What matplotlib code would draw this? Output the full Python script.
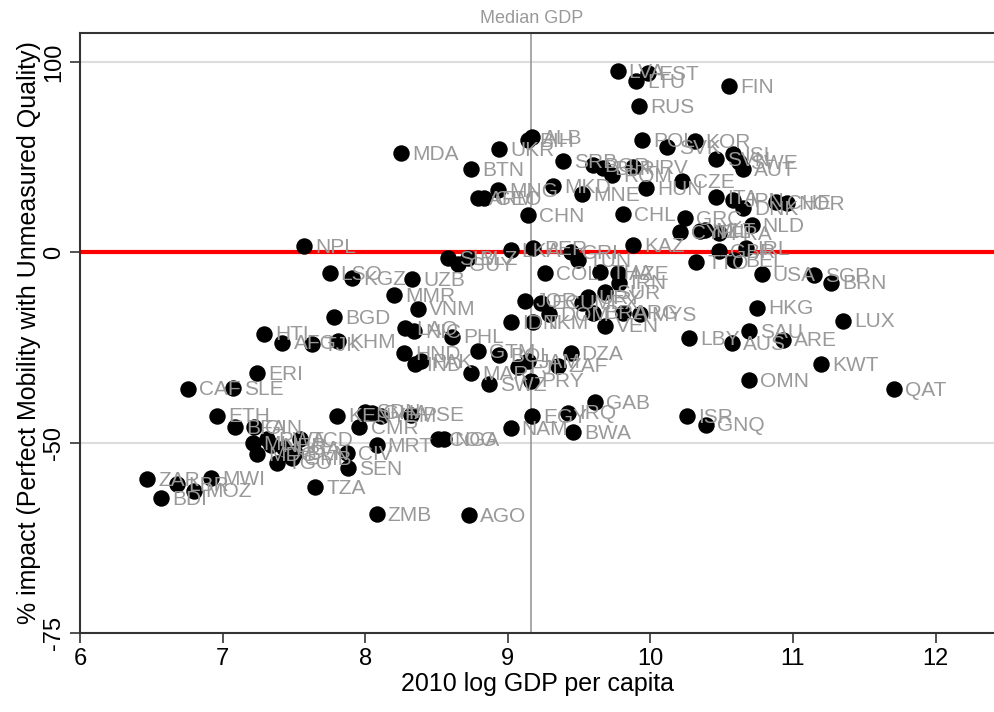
import numpy as np
import matplotlib
matplotlib.use("Agg")
import matplotlib.pyplot as plt

plt.rcParams['font.family'] = ['Liberation Sans', 'DejaVu Sans']

# country code, 2010 log GDP per capita, % impact
codes = ["LVA", "EST", "LTU", "FIN", "RUS", "ALB", "BIH", "MDA", "UKR", "BTN",
         "MNG", "ARM", "GEO", "CHN", "SRB", "MKD", "MNE", "BGR", "BLR", "ROM",
         "HRV", "POL", "SVK", "KOR", "HUN", "CHL", "CZE", "SVN", "ISL", "SWE",
         "AUT", "ITA", "JPN", "DNK", "CHE", "NOR", "GRC", "NLD", "CYP", "NZL",
         "MLT", "FRA", "GBR", "IRL", "TTO", "BEL", "USA", "SGP", "BRN", "HKG",
         "LUX", "SAU", "ARE", "LBY", "AUS", "KWT", "OMN", "QAT", "ISR", "GNQ",
         "KAZ", "LKA", "PER", "CRI", "TUN", "SLV", "GUY", "BLZ", "NPL", "LSO",
         "KGZ", "UZB", "MMR", "VNM", "BGD", "LAO", "NIC", "PHL", "HTI", "AFG",
         "TJK", "KHM", "HND", "IND", "PAK", "GTM", "MAR", "SWZ", "BOL", "FJI",
         "JAM", "PRY", "DZA", "ZAF", "COL", "THA", "AZE", "IRN", "SUR", "URY",
         "MEX", "BRA", "VEN", "ARG", "MYS", "JOR", "ECU", "DOM", "IDN", "TKM",
         "CAF", "SLE", "ERI", "ETH", "BFA", "GIN", "MLI", "RWA", "NER", "MDG",
         "UGA", "TCD", "BEN", "GMB", "TGO", "CIV", "SEN", "ZAR", "LBR", "MWI",
         "MOZ", "BDI", "TZA", "KEN", "SDN", "GHA", "YEM", "PSE", "CMR", "MRT",
         "COG", "NGA", "ZMB", "AGO", "NAM", "EGY", "IRQ", "GAB", "BWA"]

log_gdp = [9.77, 9.98, 9.90, 10.55, 9.92, 9.17, 9.14, 8.25, 8.94, 8.74,
           8.93, 8.79, 8.83, 9.14, 9.39, 9.32, 9.52, 9.60, 9.67, 9.73,
           9.88, 9.94, 10.12, 10.31, 9.97, 9.81, 10.22, 10.46, 10.58, 10.62,
           10.65, 10.46, 10.58, 10.65, 10.88, 10.96, 10.24, 10.71, 10.21, 10.35,
           10.38, 10.48, 10.48, 10.67, 10.32, 10.59, 10.78, 11.15, 11.27, 10.75,
           11.35, 10.69, 10.93, 10.27, 10.57, 11.20, 10.69, 11.71, 10.26, 10.39,
           9.88, 9.02, 9.18, 9.44, 9.49, 8.58, 8.65, 8.72, 7.57, 7.75,
           7.91, 8.33, 8.20, 8.37, 7.78, 8.28, 8.34, 8.61, 7.29, 7.42,
           7.63, 7.81, 8.27, 8.35, 8.39, 8.79, 8.74, 8.87, 8.94, 9.07,
           9.14, 9.16, 9.44, 9.35, 9.26, 9.65, 9.77, 9.78, 9.68, 9.56,
           9.52, 9.60, 9.68, 9.81, 9.93, 9.12, 9.23, 9.29, 9.02, 9.18,
           6.76, 7.07, 7.24, 6.96, 7.09, 7.22, 7.21, 7.31, 7.34, 7.24,
           7.43, 7.54, 7.51, 7.49, 7.38, 7.87, 7.88, 6.47, 6.68, 6.92,
           6.80, 6.57, 7.65, 7.80, 8.00, 8.05, 8.11, 8.32, 7.96, 8.08,
           8.51, 8.55, 8.08, 8.73, 9.02, 9.17, 9.42, 9.61, 9.46]

impact = [93.5, 92.1, 86.6, 83.3, 70.3, 52.1, 50.4, 43.5, 45.6, 35.4,
          25.4, 21.8, 21.8, 14.5, 39.4, 27.2, 23.6, 37.4, 35.9, 32.4,
          36.4, 50.4, 46.7, 49.9, 26.3, 14.9, 29.6, 40.4, 43.0, 38.9,
          35.4, 22.2, 20.9, 17.4, 20.0, 19.6, 13.2, 10.4, 7.6, 8.0,
          8.3, 7.2, 0.4, 1.5, -3.6, -2.9, -7.7, -8.0, -10.4, -18.2,
          -22.0, -24.8, -27.2, -26.9, -28.2, -33.5, -37.1, -39.3, -45.0, -46.6,
          2.6, 0.7, 1.5, 0.0, -2.9, -2.2, -4.3, -2.2, 2.2, -7.4,
          -9.0, -9.4, -14.5, -18.5, -21.1, -24.2, -24.8, -26.4, -25.6, -28.0,
          -28.5, -27.7, -30.6, -33.5, -32.6, -30.3, -35.5, -38.2, -31.3, -34.2,
          -32.6, -37.3, -30.6, -33.8, -7.4, -7.0, -7.4, -10.4, -13.6, -15.1,
          -16.7, -19.7, -23.4, -19.7, -20.0, -16.1, -16.7, -20.2, -22.3, -22.5,
          -39.1, -38.9, -35.5, -44.8, -47.0, -47.0, -50.0, -49.3, -50.4, -52.0,
          -50.9, -49.3, -51.8, -52.8, -53.5, -51.8, -54.4, -56.2, -57.0, -56.0,
          -58.0, -59.2, -57.4, -44.8, -44.0, -44.2, -44.8, -44.6, -47.0, -50.5,
          -49.3, -49.3, -61.4, -61.6, -47.2, -45.0, -44.2, -42.1, -48.1]

median_gdp = 9.165
yticks = [100, 0, -50, -75]


def fwd(y):
    return np.log2(np.maximum(1 + np.asarray(y, dtype=float) / 100, 1e-9))


def inv(u):
    return 100 * (np.power(2.0, u) - 1)


fig = plt.figure(figsize=(9.94, 7.12), dpi=100)
ax = fig.add_axes([0.0805, 0.111, 0.9195, 0.8426])
ax.set_yscale('function', functions=(fwd, inv))

for t in yticks:
    ax.axhline(t, color='#dddddd', lw=1.5, zorder=0)
ax.axvline(median_gdp, color='#999999', lw=1.2, zorder=1)
ax.axhline(0, color='red', lw=3, zorder=2)

ax.scatter(log_gdp, impact, s=140, color='black', zorder=3, linewidths=0)
for c, x, y in zip(codes, log_gdp, impact):
    ax.annotate(c, (x, y), xytext=(8, -1), textcoords='offset points',
                va='center', ha='left', fontsize=15, color='#999999', zorder=4)

ax.text(median_gdp, 1.01, "Median GDP", transform=ax.get_xaxis_transform(),
        ha='center', va='bottom', fontsize=13, color='#999999')

ax.set_xlim(6, 12.41)
ax.set_ylim(-75, 122.3)
ax.set_xticks([6, 7, 8, 9, 10, 11, 12])
ax.set_yticks(yticks)
ax.set_yticklabels([str(t) for t in yticks], rotation=90, va='center')
ax.tick_params(axis='both', labelsize=17, length=7, width=1.2, color='#333333')
ax.minorticks_off()

for side in ['left', 'top', 'bottom']:
    ax.spines[side].set_color('#333333')
    ax.spines[side].set_linewidth(1.5)
ax.spines['right'].set_visible(False)

ax.set_xlabel("2010 log GDP per capita", fontsize=18, labelpad=2)
ax.set_ylabel("% impact (Perfect Mobility with Unmeasured Quality)", fontsize=18, labelpad=2)

fig.savefig("out.png", dpi=100)
